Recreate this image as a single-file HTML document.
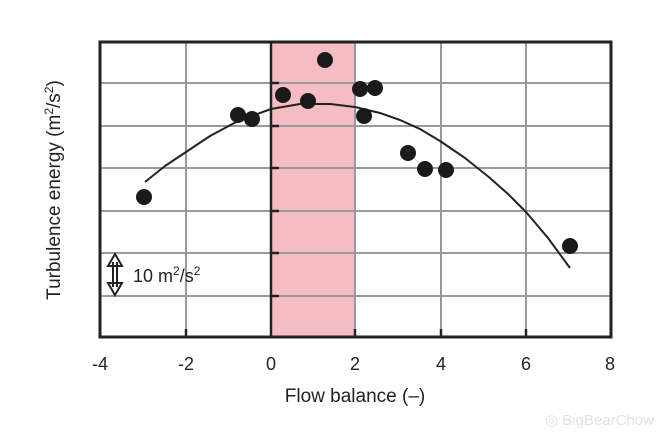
<!DOCTYPE html>
<html><head><meta charset="utf-8"><style>
html,body{margin:0;padding:0;background:#fff;}
svg{display:block;font-family:"Liberation Sans",sans-serif;}
</style></head><body>
<svg width="660" height="438" viewBox="0 0 660 438">
<rect x="271" y="42" width="84" height="295" fill="#f6bcc4"/>
<g stroke="#999" stroke-width="2">
<line x1="186" y1="42" x2="186" y2="337"/><line x1="355" y1="42" x2="355" y2="337"/>
<line x1="441" y1="42" x2="441" y2="337"/><line x1="526" y1="42" x2="526" y2="337"/>
<line x1="100" y1="83" x2="611" y2="83"/><line x1="100" y1="126" x2="611" y2="126"/>
<line x1="100" y1="168" x2="611" y2="168"/><line x1="100" y1="211" x2="611" y2="211"/>
<line x1="100" y1="253" x2="611" y2="253"/><line x1="100" y1="296" x2="611" y2="296"/>
</g>
<line x1="271" y1="42" x2="271" y2="337" stroke="#222" stroke-width="2.5"/>
<g stroke="#222" stroke-width="2.5">
<line x1="271" y1="83" x2="279" y2="83"/><line x1="271" y1="126" x2="279" y2="126"/>
<line x1="271" y1="168" x2="279" y2="168"/><line x1="271" y1="211" x2="279" y2="211"/>
<line x1="271" y1="253" x2="279" y2="253"/><line x1="271" y1="296" x2="279" y2="296"/>
<line x1="186" y1="337" x2="186" y2="329"/><line x1="355" y1="337" x2="355" y2="329"/>
<line x1="441" y1="337" x2="441" y2="329"/><line x1="526" y1="337" x2="526" y2="329"/>
</g>
<rect x="100" y="42" width="511" height="295" fill="none" stroke="#222" stroke-width="3"/>
<polyline fill="none" stroke="#222" stroke-width="2" stroke-linejoin="round" points="145,182 165,166 186,152 210,136 238,121 271,109 300,104 330,104 355,107 380,113 400,120 420,129 440,141 465,158 490,178 508,194 526,212 548,238 570,268"/>
<g fill="#1a1a1a">
<circle cx="144" cy="197" r="8"/><circle cx="238" cy="115" r="8"/><circle cx="252" cy="119" r="8"/>
<circle cx="283" cy="95" r="8"/><circle cx="308" cy="101" r="8"/><circle cx="325" cy="60" r="8"/>
<circle cx="360" cy="89" r="8"/><circle cx="375" cy="88" r="8"/><circle cx="364" cy="116" r="8"/>
<circle cx="408" cy="153" r="8"/><circle cx="425" cy="169" r="8"/><circle cx="446" cy="170" r="8"/>
<circle cx="570" cy="246" r="8"/>
</g>
<g stroke="#222" stroke-width="2" fill="none">
<line x1="113" y1="262" x2="113" y2="287"/><line x1="117" y1="262" x2="117" y2="287"/>
<polygon points="108,266 115,254 122,266"/><polygon points="108,283 115,295 122,283"/>
</g>
<text x="133" y="282" font-size="18" fill="#222">10 m<tspan font-size="12" dy="-7">2</tspan><tspan dy="7">/s</tspan><tspan font-size="12" dy="-7">2</tspan></text>
<g font-size="18" fill="#222" text-anchor="middle">
<text x="100" y="370">-4</text><text x="186" y="370">-2</text><text x="271" y="370">0</text>
<text x="355" y="370">2</text><text x="441" y="370">4</text><text x="526" y="370">6</text><text x="610" y="370">8</text>
<text x="355" y="402" font-size="19">Flow balance (–)</text>
<text transform="translate(60,190) rotate(-90)" font-size="19">Turbulence energy (m<tspan font-size="12" dy="-7">2</tspan><tspan dy="7">/s</tspan><tspan font-size="12" dy="-7">2</tspan><tspan dy="7">)</tspan></text>
</g>
<text x="545" y="425" font-size="15" fill="#e2e2e2">◎ BigBearChow</text>
</svg>
</body></html>
